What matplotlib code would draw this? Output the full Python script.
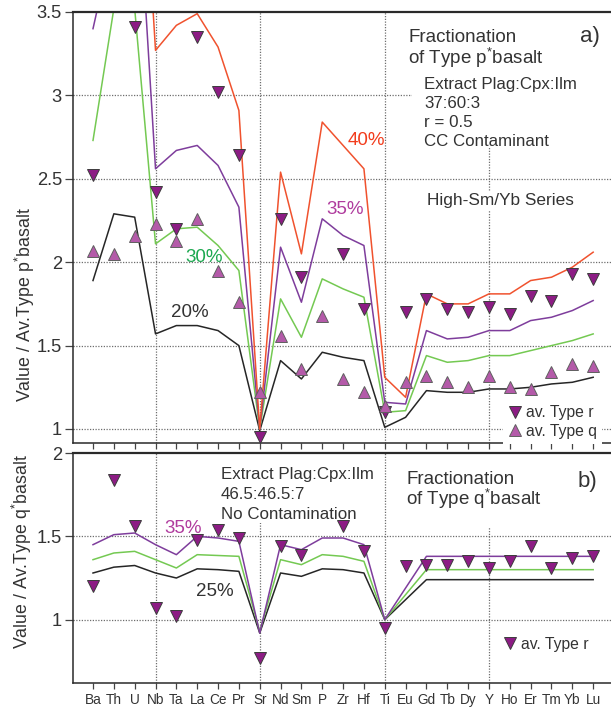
import numpy as np
import matplotlib
matplotlib.use("Agg")
import matplotlib.pyplot as plt
from matplotlib.lines import Line2D
from matplotlib.patches import Rectangle

plt.rcParams['font.family'] = ['Liberation Sans', 'DejaVu Sans']
plt.rcParams['mathtext.fontset'] = 'custom'
plt.rcParams['mathtext.rm'] = 'Liberation Sans'
plt.rcParams['mathtext.it'] = 'Liberation Sans:italic'
plt.rcParams['mathtext.bf'] = 'Liberation Sans:bold'

elements = ["Ba", "Th", "U", "Nb", "Ta", "La", "Ce", "Pr", "Sr", "Nd", "Sm", "P", "Zr",
            "Hf", "Ti", "Eu", "Gd", "Tb", "Dy", "Y", "Ho", "Er", "Tm", "Yb", "Lu"]

# (a) fractionation of Type p* basalt, CC contaminant
a_20 = [1.89, 2.29, 2.27, 1.57, 1.62, 1.62, 1.59, 1.50, 0.99, 1.41, 1.30, 1.46, 1.43,
        1.41, 1.01, 1.07, 1.23, 1.22, 1.22, 1.24, 1.24, 1.25, 1.27, 1.28, 1.31]
a_30 = [2.73, 3.52, 3.52, 2.11, 2.20, 2.21, 2.10, 1.95, 1.00, 1.78, 1.55, 1.90, 1.84,
        1.79, 1.10, 1.11, 1.44, 1.40, 1.41, 1.44, 1.44, 1.47, 1.50, 1.53, 1.57]
a_35 = [3.40, 3.96, 4.60, 2.56, 2.67, 2.70, 2.58, 2.33, 1.00, 2.09, 1.76, 2.26, 2.16,
        2.10, 1.16, 1.15, 1.59, 1.54, 1.55, 1.59, 1.59, 1.65, 1.67, 1.71, 1.77]
a_40 = [4.60, 5.00, 5.30, 3.27, 3.42, 3.49, 3.29, 2.91, 1.00, 2.54, 2.05, 2.84, 2.70,
        2.56, 1.31, 1.19, 1.81, 1.75, 1.75, 1.81, 1.81, 1.89, 1.91, 1.97, 2.06]
a_type_r = [2.52, np.nan, 3.41, 2.42, 2.20, 3.35, 3.02, 2.64, 0.954, 2.26, 1.91, np.nan, 2.05,
            1.72, 1.10, 1.70, 1.78, 1.72, 1.70, 1.73, 1.69, 1.80, 1.77, 1.93, 1.90]
a_type_q = [2.07, 2.05, 2.16, 2.23, 2.13, 2.26, 1.95, 1.76, 1.22, 1.56, 1.36, 1.68, 1.30,
            1.22, 1.14, 1.28, 1.32, 1.28, 1.25, 1.32, 1.25, 1.24, 1.34, 1.39, 1.38]

# (b) fractionation of Type q* basalt, no contamination
b_25 = [1.28, 1.315, 1.325, 1.28, 1.25, 1.305, 1.30, 1.29, 0.92, 1.28, 1.26, 1.305, 1.30,
        1.28, 1.00, 1.12, 1.24, 1.24, 1.24, 1.24, 1.24, 1.24, 1.24, 1.24, 1.24]
b_30 = [1.36, 1.40, 1.41, 1.36, 1.31, 1.39, 1.385, 1.38, 0.93, 1.36, 1.33, 1.39, 1.38,
        1.35, 1.00, 1.15, 1.30, 1.30, 1.30, 1.30, 1.30, 1.30, 1.30, 1.30, 1.30]
b_35 = [1.45, 1.51, 1.52, 1.45, 1.39, 1.50, 1.49, 1.47, 0.92, 1.45, 1.42, 1.49, 1.49,
        1.45, 1.00, 1.19, 1.38, 1.38, 1.38, 1.38, 1.38, 1.38, 1.38, 1.38, 1.38]
b_type_r = [1.20, 1.84, 1.56, 1.07, 1.02, 1.48, 1.54, 1.49, 0.77, 1.44, 1.39, np.nan, 1.56,
            1.41, 0.95, 1.32, 1.33, 1.33, 1.35, 1.31, 1.35, 1.44, 1.31, 1.37, 1.38]

RED = '#f0522e'
PURPLE = '#7e3d9c'
GREEN = '#74c952'
BLACK = '#262626'
R_FILL, R_EDGE = '#8c1c84', '#3c3c3c'
Q_FILL, Q_EDGE = '#b45aa9', '#606060'
GRID = '#6e6e6e'
TXT = '#333333'

W, H = 611, 708
fig = plt.figure(figsize=(W / 100, H / 100), dpi=100)


def px_axes(left, top, right, bottom):
    return fig.add_axes([left / W, 1 - bottom / H, (right - left) / W, (bottom - top) / H])


def fx(px):
    return px / W


def fy(py):
    return 1 - py / H


x = np.arange(len(elements))
ax_a = px_axes(73, 12, 614, 443)
ax_b = px_axes(73, 453, 614, 683)

for ax in (ax_a, ax_b):
    ax.set_xlim(-0.96, 25.0)
    ax.set_xticks(x)
    for s in ('left', 'top', 'bottom'):
        ax.spines[s].set_color('#2a2a2a')
        ax.spines[s].set_linewidth(1.1)
    ax.spines['right'].set_visible(False)
    ax.tick_params(axis='y', direction='out', length=6, width=0.9, color='#444444',
                   labelsize=13.2, labelcolor=TXT, pad=2)
    ax.tick_params(axis='x', direction='out', length=4, width=0.9, color='#444444',
                   labelsize=9.8, labelcolor=TXT, pad=3)
    for xi in (3, 8, 14, 19):
        ax.axvline(xi, color=GRID, lw=0.9, ls=(0, (1, 1.2)), zorder=0.5)

ax_a.spines['top'].set_linewidth(1.6)
ax_b.spines['top'].set_linewidth(1.6)

# ---- panel a ----
ax_a.set_ylim(0.916, 3.5)
ax_a.set_yticks([1, 1.5, 2, 2.5, 3, 3.5])
ax_a.set_yticklabels(["1", "1.5", "2", "2.5", "3", "3.5"])
ax_a.set_xticklabels([])
for yv in (1, 1.5, 2, 2.5, 3):
    ax_a.axhline(yv, color=GRID, lw=0.9, ls=(0, (1, 1.2)), zorder=0.5)

# white panel behind the annotation block
ax_a.add_patch(Rectangle((0.627, 0.684), 0.373, 0.316, transform=ax_a.transAxes,
                         facecolor='white', edgecolor='none', zorder=1))

for vals, col in ((a_20, BLACK), (a_30, GREEN), (a_35, PURPLE), (a_40, RED)):
    ax_a.plot(x, vals, color=col, lw=1.1, zorder=2)

ax_a.plot(x, a_type_r, ls='none', marker='v', ms=9, mfc=R_FILL, mec=R_EDGE, mew=0.7, zorder=4)
ax_a.plot(x, a_type_q, ls='none', marker='^', ms=9, mfc=Q_FILL, mec=Q_EDGE, mew=0.7, zorder=4)

leg_a = ax_a.legend(
    handles=[Line2D([], [], ls='none', marker='v', ms=9, mfc=R_FILL, mec=R_EDGE, mew=0.7),
             Line2D([], [], ls='none', marker='^', ms=9, mfc=Q_FILL, mec=Q_EDGE, mew=0.7)],
    labels=["av. Type r", "av. Type q"], loc='upper left',
    bbox_to_anchor=(fx(503), fy(400)), bbox_transform=fig.transFigure,
    frameon=True, facecolor='white', edgecolor='none', framealpha=1, fancybox=False,
    fontsize=11.3, handlelength=0.8, handletextpad=0.3, labelspacing=0.22,
    borderpad=0.35, borderaxespad=0)
for t in leg_a.get_texts():
    t.set_color(TXT)

fig.text(fx(408), fy(42), "Fractionation", fontsize=13.5, color=TXT, va='baseline')
fig.text(fx(408), fy(63.5), r"of Type p$^{*}$basalt", fontsize=13.5, color=TXT, va='baseline')
fig.text(fx(580), fy(42), "a)", fontsize=16, color=TXT, va='baseline')
for i, s in enumerate(["Extract Plag:Cpx:Ilm", "37:60:3", "r = 0.5", "CC Contaminant"]):
    fig.text(fx(424), fy(89 + 19 * i), s, fontsize=12.2, color=TXT, va='baseline')
fig.text(fx(427), fy(205.5), "High-Sm/Yb Series", fontsize=12.4, color=TXT, va='baseline',
         bbox=dict(facecolor='white', edgecolor='none', pad=1))
fig.text(fx(348), fy(145), "40%", fontsize=13.5, color='#f23c1c', va='baseline')
fig.text(fx(326), fy(213.5), "35%", fontsize=13.5, color='#b03c9e', va='baseline')
fig.text(fx(185), fy(261.7), "30%", fontsize=13.5, color='#1ca850', va='baseline')
fig.text(fx(171), fy(316.7), "20%", fontsize=13.5, color=TXT, va='baseline')

# ---- panel b ----
ax_b.set_ylim(0.62, 2.0)
ax_b.set_yticks([1, 1.5, 2])
ax_b.set_yticklabels(["1", "1.5", "2"])
ax_b.set_xticklabels(elements)
for yv in (1, 1.5):
    ax_b.axhline(yv, color=GRID, lw=0.9, ls=(0, (1, 1.2)), zorder=0.5)

ax_b.add_patch(Rectangle(((218 - 73) / 541, (683 - 523) / 230), (382 - 218) / 541, 1,
                         transform=ax_b.transAxes, facecolor='white', edgecolor='none', zorder=1))
ax_b.add_patch(Rectangle(((400 - 73) / 541, (683 - 528) / 230), 1, 1,
                         transform=ax_b.transAxes, facecolor='white', edgecolor='none', zorder=1))

for vals, col in ((b_25, BLACK), (b_30, GREEN), (b_35, PURPLE)):
    ax_b.plot(x, vals, color=col, lw=1.1, zorder=2)
ax_b.plot(x, b_type_r, ls='none', marker='v', ms=9, mfc=R_FILL, mec=R_EDGE, mew=0.7, zorder=4)

leg_b = ax_b.legend(
    handles=[Line2D([], [], ls='none', marker='v', ms=9, mfc=R_FILL, mec=R_EDGE, mew=0.7)],
    labels=["av. Type r"], loc='upper left',
    bbox_to_anchor=(fx(499), fy(632)), bbox_transform=fig.transFigure,
    frameon=False, fontsize=11.3, handlelength=0.8, handletextpad=0.3,
    borderpad=0.3, borderaxespad=0)
for t in leg_b.get_texts():
    t.set_color(TXT)

for i, s in enumerate(["Extract Plag:Cpx:Ilm", "46.5:46.5:7", "No Contamination"]):
    fig.text(fx(221), fy(479 + 20 * i), s, fontsize=12.2, color=TXT, va='baseline')
fig.text(fx(406), fy(484), "Fractionation", fontsize=13.5, color=TXT, va='baseline')
fig.text(fx(406), fy(505), r"of Type q$^{*}$basalt", fontsize=13.5, color=TXT, va='baseline')
fig.text(fx(578), fy(487), "b)", fontsize=16, color=TXT, va='baseline')
fig.text(fx(164), fy(533), "35%", fontsize=13.5, color='#b03c9e', va='baseline')
fig.text(fx(196), fy(596), "25%", fontsize=13.5, color=TXT, va='baseline')

# y-axis titles
fig.text(fx(25), fy(305), r"Value / Av.Type p$^{*}$basalt", rotation=90, fontsize=12.8,
         color=TXT, ha='center', va='center')
fig.text(fx(22), fy(552), r"Value / Av.Type q$^{*}$basalt", rotation=90, fontsize=12.8,
         color=TXT, ha='center', va='center')

fig.savefig("out.png", dpi=100, facecolor='white')
